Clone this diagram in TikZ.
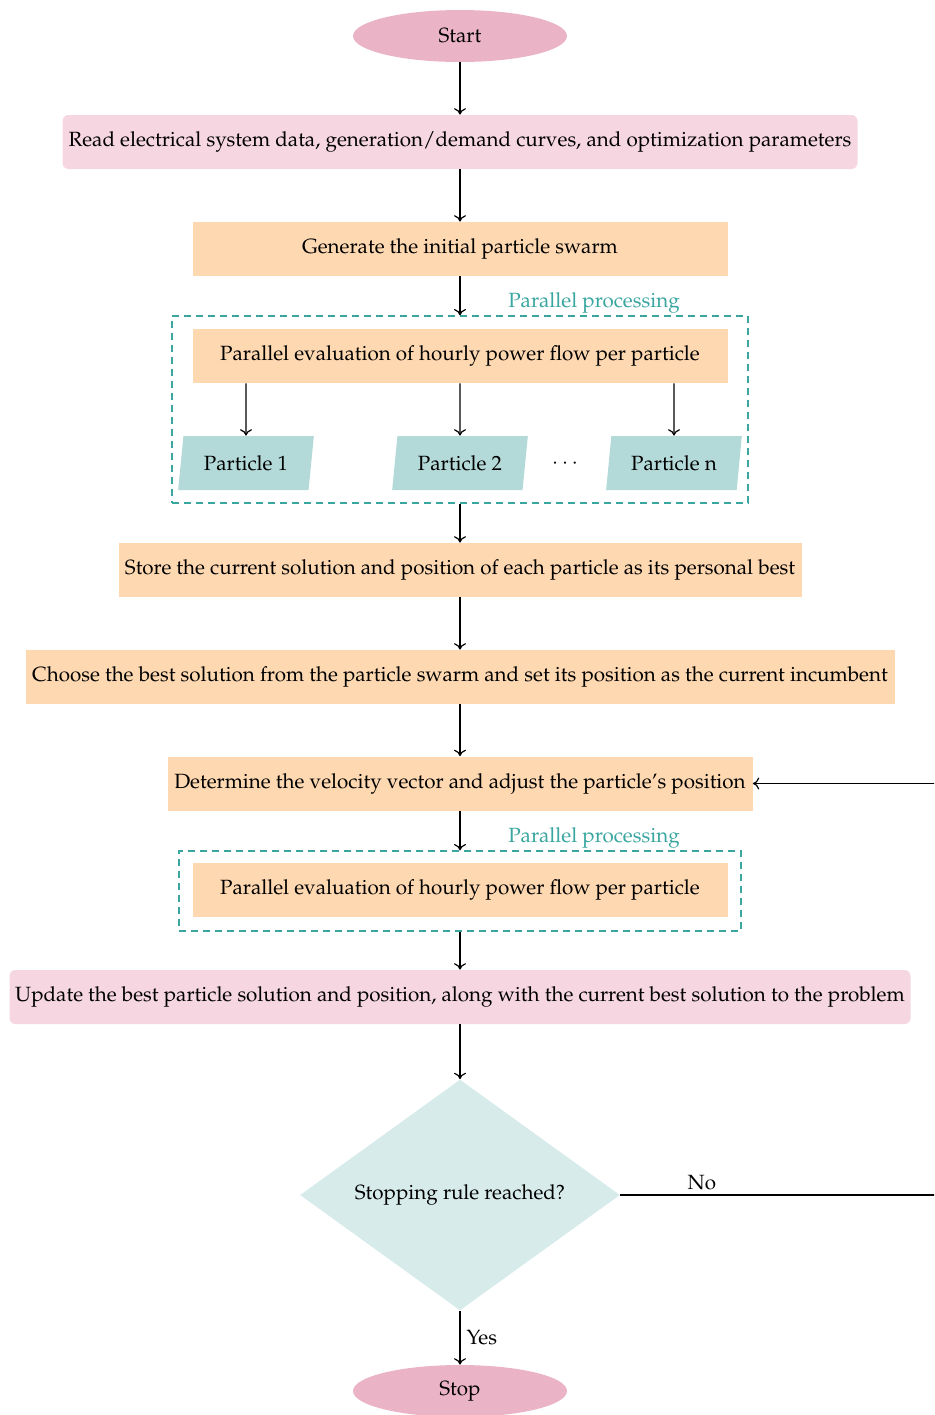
\documentclass[tikz,border=0pt]{standalone}
\usepackage[T1]{fontenc}
\usepackage{mathpazo}
\usetikzlibrary{shapes.geometric,arrows.meta}
\definecolor{termpink}{HTML}{EBB3C6}
\definecolor{lightpink}{HTML}{F5D6E1}
\definecolor{peach}{HTML}{FED8B1}
\definecolor{partteal}{HTML}{B3DAD8}
\definecolor{diateal}{HTML}{D7EBEA}
\definecolor{dashteal}{HTML}{3AA6A0}
\tikzset{
  term/.style={ellipse, fill=termpink, minimum width=107pt, minimum height=26pt, inner sep=0pt},
  pinkbox/.style={rectangle, rounded corners=3pt, fill=lightpink, minimum height=27pt, inner sep=0pt},
  peachbox/.style={rectangle, fill=peach, minimum height=27pt, inner sep=0pt},
  partbox/.style={trapezium, trapezium left angle=77, trapezium right angle=103, trapezium stretches=true, fill=partteal, minimum width=68pt, minimum height=27pt, inner sep=0pt},
  decision/.style={diamond, fill=diateal, minimum width=160pt, minimum height=115pt, inner sep=0pt},
  dashbox/.style={rectangle, draw=dashteal, dash pattern=on 3.5pt off 2.5pt, line width=0.6pt, inner sep=0pt},
  pplabel/.style={text=dashteal, inner sep=0pt},
  arr/.style={-{To[length=3.2pt,width=6pt]}, black, line width=0.6pt},
  plainline/.style={black, line width=0.6pt},
}
\begin{document}
\begin{tikzpicture}[x=0.5pt, y=-0.5pt, font=\fontsize{10.3}{12}\selectfont]
\useasboundingbox (0,0) rectangle (934,1415);
\clip (0,0) rectangle (934,1415);

\node[term] (start) at (460,36) {Start};
\node[pinkbox, minimum width=397.5pt] (read) at (460,142) {Read electrical system data, generation/demand curves, and optimization parameters};
\node[peachbox, minimum width=267.5pt] (gen) at (460,249) {Generate the initial particle swarm};

\node[dashbox, minimum width=288pt, minimum height=93.5pt] (dash1) at (460,409.5) {};
\node[pplabel] (pp1) at (594,303) {Parallel processing};
\node[peachbox, minimum width=267.5pt] (eval1) at (460,356) {Parallel evaluation of hourly power flow per particle};
\node[partbox] (p1) at (246,463) {Particle 1};
\node[partbox] (p2) at (460,463) {Particle 2};
\node[partbox] (pn) at (674,463) {Particle n};
\node (dots) at (565,464) {$\cdots$};

\node[peachbox, minimum width=341.5pt] (store) at (460,570) {Store the current solution and position of each particle as its personal best};
\node[peachbox, minimum width=434.5pt] (choose) at (460,677) {Choose the best solution from the particle swarm and set its position as the current incumbent};
\node[peachbox, minimum width=292.5pt] (det) at (460,783.5) {Determine the velocity vector and adjust the particle's position};

\node[dashbox, minimum width=281pt, minimum height=40pt] (dash2) at (460,891) {};
\node[pplabel] (pp2) at (594,838) {Parallel processing};
\node[peachbox, minimum width=267.5pt] (eval2) at (460,890) {Parallel evaluation of hourly power flow per particle};

\node[pinkbox, minimum width=450.5pt] (upd) at (460,997) {Update the best particle solution and position, along with the current best solution to the problem};
\node[decision] (dec) at (460,1195) {Stopping rule reached?};
\node[term] (stop) at (460,1391) {Stop};

\coordinate (loopA) at (960,1195);
\coordinate (loopB) at (960,783.5);

\draw[arr] (start) -- (read);
\draw[arr] (read) -- (gen);
\draw[arr] (gen) -- (dash1.north);
\draw[arr] (eval1.south -| p1) -- (p1);
\draw[arr] (eval1) -- (p2);
\draw[arr] (eval1.south -| pn) -- (pn);
\draw[arr] (dash1.south) -- (store);
\draw[arr] (store) -- (choose);
\draw[arr] (choose) -- (det);
\draw[arr] (det) -- (dash2.north);
\draw[arr] (dash2.south) -- (upd);
\draw[arr] (upd) -- (dec);
\draw[arr] (dec) -- node[right, inner sep=3pt] {Yes} (stop);
\draw[plainline] (dec.east) -- node[above, pos=0.24, inner sep=2pt] {No} (loopA);
\draw[arr] (loopB) -- (det.east);
\end{tikzpicture}
\end{document}
